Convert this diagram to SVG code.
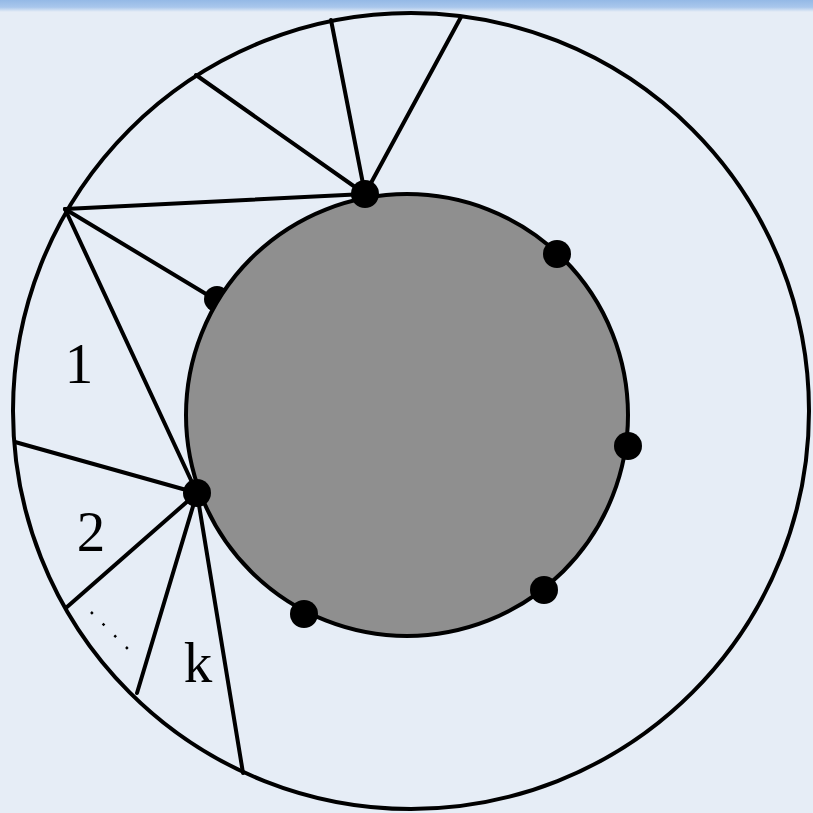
<svg xmlns="http://www.w3.org/2000/svg" width="813" height="813" viewBox="0 0 813 813">
  <defs>
    <linearGradient id="band" x1="0" y1="0" x2="0" y2="1">
      <stop offset="0" stop-color="#94b9e6"/>
      <stop offset="0.6" stop-color="#a9c7ec"/>
      <stop offset="1" stop-color="#e6edf6"/>
    </linearGradient>
  </defs>
  <style>
    .ln { stroke: #000; stroke-width: 4; fill: none; stroke-linecap: round; }
    .dot { fill: #000; }
    .lbl { font-family: "Liberation Serif", "Times New Roman", serif; font-size: 57px; fill: #000; }
  </style>
  <rect x="0" y="0" width="813" height="813" fill="#e6edf6"/>
  <rect x="0" y="0" width="813" height="12" fill="url(#band)"/>

  <g id="outer-circle">
    <circle cx="411" cy="411" r="398" class="ln"/>
  </g>

  <g id="connectors">
    <line class="ln" x1="365" y1="194" x2="331" y2="20"/>
    <line class="ln" x1="365" y1="194" x2="461" y2="17"/>
    <line class="ln" x1="365" y1="194" x2="196" y2="75"/>
    <line class="ln" x1="365" y1="194" x2="65" y2="209"/>
    <line class="ln" x1="65" y1="209" x2="216" y2="300"/>
    <line class="ln" x1="65" y1="209" x2="197" y2="493"/>
    <line class="ln" x1="15" y1="442" x2="197" y2="493"/>
    <line class="ln" x1="197" y1="493" x2="67" y2="607"/>
    <line class="ln" x1="197" y1="493" x2="137" y2="693"/>
    <line class="ln" x1="197" y1="493" x2="243" y2="773"/>
    <line x1="91" y1="612" x2="128" y2="649" stroke="#000" stroke-width="2.5" stroke-dasharray="2.5 14" stroke-linecap="butt"/>
  </g>

  <g id="dot-hidden">
    <circle class="dot" cx="217" cy="299" r="13"/>
  </g>

  <g id="inner-disk">
    <circle cx="407" cy="415" r="221" fill="#8f8f8f" stroke="#000" stroke-width="4"/>
  </g>

  <g id="dot-1"><circle class="dot" cx="365" cy="194" r="14"/></g>
  <g id="dot-2"><circle class="dot" cx="557" cy="254" r="14"/></g>
  <g id="dot-3"><circle class="dot" cx="628" cy="446" r="14"/></g>
  <g id="dot-4"><circle class="dot" cx="544" cy="590" r="14"/></g>
  <g id="dot-5"><circle class="dot" cx="304" cy="614" r="14"/></g>
  <g id="dot-6"><circle class="dot" cx="197" cy="493" r="14"/></g>

  <g id="labels">
    <text class="lbl" x="79" y="383" text-anchor="middle">1</text>
    <text class="lbl" x="91" y="551" text-anchor="middle">2</text>
    <text class="lbl" x="198" y="682" text-anchor="middle">k</text>
  </g>
</svg>
